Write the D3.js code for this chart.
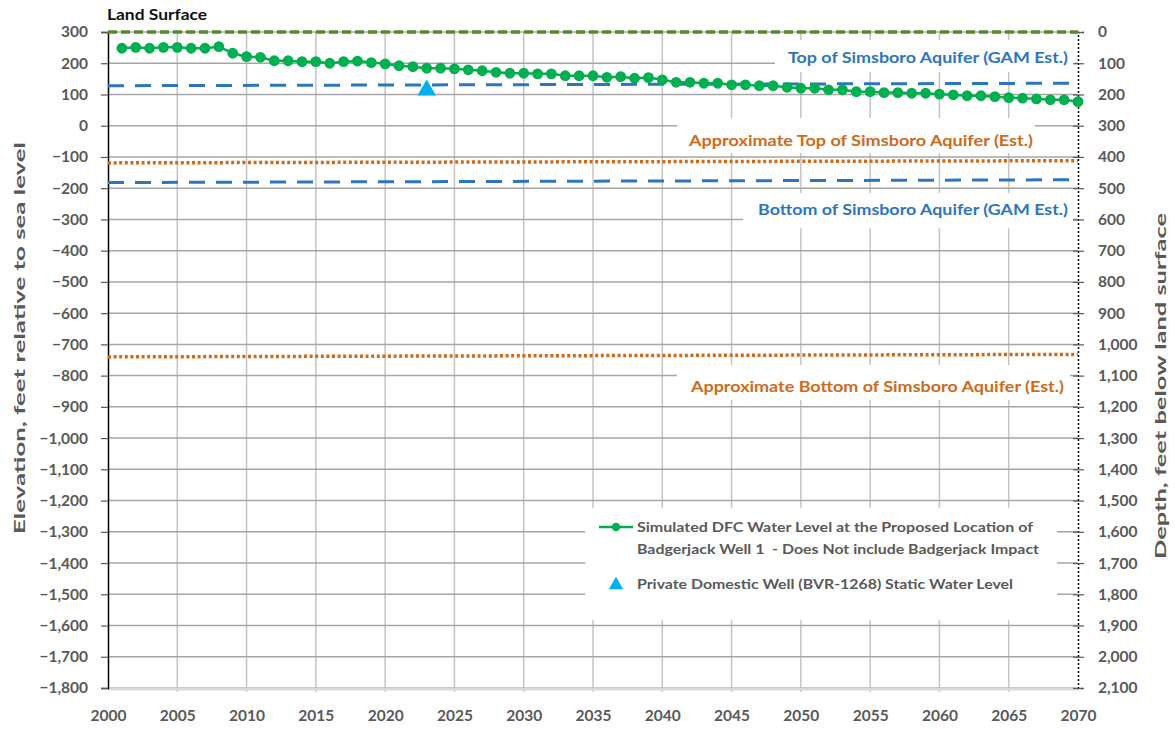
<!DOCTYPE html>
<html>
<head>
<meta charset="utf-8">
<script src="https://cdn.jsdelivr.net/npm/d3@7"></script>
<style>
  html, body { margin: 0; padding: 0; background: #fff; }
  svg { display: block; font-family: Lato, "Open Sans", sans-serif; }
  text { white-space: pre; }
</style>
</head>
<body>
<svg id="chart" width="1175" height="729"></svg>
<script>
// ---------------- DATA ----------------
const years = d3.range(2001, 2071);
const dfcLevel = [
  248, 251, 248, 251, 251, 248, 248, 253, 232, 221,
  219, 208, 208, 205, 205, 200, 205, 207, 202, 198,
  192, 189, 184, 184, 182, 179, 176, 171, 168, 168,
  166, 166, 160, 160, 160, 155, 157, 152, 154, 147,
  139, 139, 136, 136, 131, 131, 128, 128, 123, 120,
  120, 115, 115, 109, 109, 106, 106, 104, 104, 101,
  99, 96, 96, 93, 90, 88, 86, 83, 83, 77
];
const wellYears = [2023];
const wellLevels = [120];
const refYears = [2000, 2070];
const landSurface = [300, 300];
const topSimsboroGAM = [128, 136];
const bottomSimsboroGAM = [-182, -173];
const approxTopSimsboro = [-119, -112];
const approxBottomSimsboro = [-740, -732];
const xTicks = [2000, 2005, 2010, 2015, 2020, 2025, 2030, 2035, 2040, 2045, 2050, 2055, 2060, 2065, 2070];
const yTicks = d3.range(300, -1801, -100);
const depthTicks = d3.range(0, 2101, 100);
const legendLabels = [
  "Simulated DFC Water Level at the Proposed Location of",
  "Badgerjack Well 1  - Does Not include Badgerjack Impact",
  "Private Domestic Well (BVR-1268) Static Water Level"
];

// ---------------- LAYOUT ----------------
const L = 108, R = 1078, T = 32, B = 688;
const svg = d3.select("#chart");
const x = d3.scaleLinear().domain([2000, 2070]).range([L, R]);
const y = d3.scaleLinear().domain([-1800, 300]).range([B, T]);
const y2 = d3.scaleLinear().domain([0, 2100]).range([T, B]);
const gray = "#595959";
const fmt = d3.format(",");

// gridlines
const grid = svg.append("g");
grid.selectAll("line.v").data(xTicks.filter(d => d > 2000 && d < 2070)).join("line")
  .attr("x1", d => x(d)).attr("x2", d => x(d)).attr("y1", T).attr("y2", B + 4)
  .attr("stroke", "#c4c4c4").attr("stroke-width", 1.5);
grid.selectAll("line.h").data(yTicks).join("line")
  .attr("x1", L).attr("x2", R).attr("y1", d => y(d)).attr("y2", d => y(d))
  .attr("stroke", "#a6a6a6").attr("stroke-width", 1.5);

// white boxes behind annotation labels and legend
const boxes = [
  [775, 40, 300, 32],
  [677, 118, 358, 35],
  [743, 193, 330, 35],
  [677, 365, 393, 35],
  [585, 508, 472, 112]
];
svg.append("g").selectAll("rect").data(boxes).join("rect")
  .attr("x", d => d[0]).attr("y", d => d[1]).attr("width", d => d[2]).attr("height", d => d[3])
  .attr("fill", "#fff");

// bottom axis line
svg.append("line").attr("x1", L).attr("x2", R).attr("y1", B + 1).attr("y2", B + 1)
  .attr("stroke", "#d9d9d9").attr("stroke-width", 3);

// left axis
const yAxis = d3.axisLeft(y).tickValues(yTicks).tickSize(7).tickPadding(13).tickFormat(fmt);
const gy = svg.append("g").attr("transform", `translate(${L},0)`).call(yAxis);
gy.select(".domain").attr("stroke", "#000").attr("stroke-width", 1.5);
gy.selectAll(".tick line").attr("stroke", "#595959").attr("stroke-width", 1.2);
gy.selectAll(".tick text").attr("fill", gray).attr("font-size", "15.5px").attr("font-weight", "bold")
  .attr("font-family", "Lato, sans-serif");

// right axis
const y2Axis = d3.axisRight(y2).tickValues(depthTicks).tickSize(6).tickPadding(14).tickFormat(fmt);
const gy2 = svg.append("g").attr("transform", `translate(${R},0)`).call(y2Axis);
gy2.select(".domain").attr("stroke", "#000").attr("stroke-width", 1.5).attr("stroke-dasharray", "2,2");
gy2.selectAll(".tick line").attr("x1", -5).attr("stroke", "#595959").attr("stroke-width", 1.2);
gy2.selectAll(".tick text").attr("fill", gray).attr("font-size", "15.5px").attr("font-weight", "bold")
  .attr("font-family", "Lato, sans-serif");

// bottom axis labels
const xAxis = d3.axisBottom(x).tickValues(xTicks).tickSize(0).tickPadding(22).tickFormat(d3.format("d"));
const gx = svg.append("g").attr("transform", `translate(0,${B})`).call(xAxis);
gx.select(".domain").remove();
gx.selectAll(".tick text").attr("fill", gray).attr("font-size", "15.5px").attr("font-weight", "bold")
  .attr("font-family", "Lato, sans-serif");

// reference lines
const refLine = d3.line().x((d, i) => x(refYears[i])).y(d => y(d));
function drawRef(vals, color, width, dash) {
  svg.append("path").datum(vals).attr("d", refLine)
    .attr("fill", "none").attr("stroke", color).attr("stroke-width", width).attr("stroke-dasharray", dash);
}
drawRef(landSurface, "#568a2e", 3.5, "9,4");
drawRef(topSimsboroGAM, "#2e75c0", 3, "16,11");
drawRef(bottomSimsboroGAM, "#2e75c0", 3, "16,11");
drawRef(approxTopSimsboro, "#d06a1a", 3.5, "3,2.6");
drawRef(approxBottomSimsboro, "#d06a1a", 3.5, "3,2.6");

// DFC series
const green = "#00b050";
svg.append("path").datum(dfcLevel)
  .attr("d", d3.line().x((d, i) => x(years[i])).y(d => y(d)))
  .attr("fill", "none").attr("stroke", green).attr("stroke-width", 2.5);
svg.append("g").selectAll("circle").data(dfcLevel).join("circle")
  .attr("cx", (d, i) => x(years[i])).attr("cy", d => y(d)).attr("r", 5.4).attr("fill", green);

// private well triangle
const tri = d3.symbol().type(d3.symbolTriangle).size(150);
svg.append("g").selectAll("path").data(wellLevels).join("path")
  .attr("d", tri).attr("fill", "#00b0f0")
  .attr("transform", (d, i) => `translate(${x(wellYears[i])},${y(d) + 2})`);

// annotation labels
function label(txt, cx, cy, color, size, len, anchor) {
  const t = svg.append("text").text(txt).attr("x", cx).attr("y", cy)
    .attr("dy", "0.35em").attr("fill", color).attr("font-size", size + "px")
    .attr("font-weight", "bold").attr("text-anchor", anchor || "start");
  if (len) t.attr("textLength", len).attr("lengthAdjust", "spacingAndGlyphs");
  return t;
}
label("Land Surface", 107, 15, "#111", 15, 100);
label("Top of Simsboro Aquifer (GAM Est.)", 788, 57, "#2e75c0", 16, 280);
label("Approximate Top of Simsboro Aquifer (Est.)", 689, 140, "#d06a1a", 16, 344);
label("Bottom of Simsboro Aquifer (GAM Est.)", 758, 209, "#2e75c0", 16, 310);
label("Approximate Bottom of Simsboro Aquifer (Est.)", 691, 386, "#d06a1a", 16, 373);

// legend
svg.append("line").attr("x1", 599).attr("x2", 633).attr("y1", 527).attr("y2", 527)
  .attr("stroke", green).attr("stroke-width", 2.5);
svg.append("circle").attr("cx", 616).attr("cy", 527).attr("r", 4.2).attr("fill", green);
svg.append("path").attr("d", d3.symbol().type(d3.symbolTriangle).size(90))
  .attr("transform", "translate(616,585)").attr("fill", "#00b0f0");
label(legendLabels[0], 637, 527, gray, 14, 396);
label(legendLabels[1], 637, 549, gray, 14, 402);
label(legendLabels[2], 637, 584, gray, 14, 376);

// axis titles
svg.append("text").text("Elevation, feet relative to sea level")
  .attr("transform", "translate(19,338) rotate(-90)").attr("dy", "0.35em")
  .attr("text-anchor", "middle").attr("fill", gray).attr("font-size", "16px").attr("font-weight", "bold")
  .attr("textLength", 392).attr("lengthAdjust", "spacingAndGlyphs");
svg.append("text").text("Depth, feet below land surface")
  .attr("transform", "translate(1160,386) rotate(-90)").attr("dy", "0.35em")
  .attr("text-anchor", "middle").attr("fill", gray).attr("font-size", "16px").attr("font-weight", "bold")
  .attr("textLength", 346).attr("lengthAdjust", "spacingAndGlyphs");
</script>
</body>
</html>
